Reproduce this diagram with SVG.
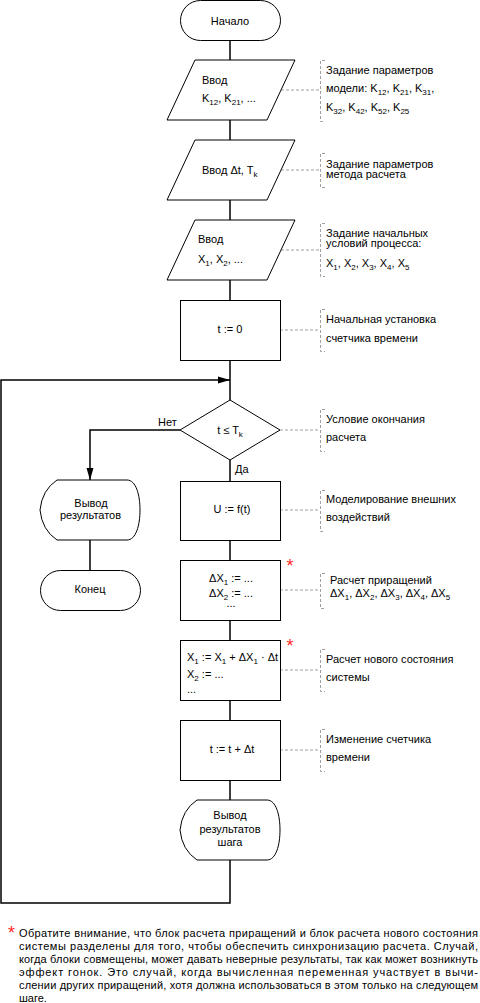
<svg xmlns="http://www.w3.org/2000/svg" width="480" height="1003" viewBox="0 0 480 1003">
<defs>
<style>
.s{fill:#fff;stroke:#000;stroke-width:1}
.c{fill:none;stroke:#000;stroke-width:1.5}
.d{fill:none;stroke:#a0a0a0;stroke-width:1;stroke-dasharray:3 2}
text{font-family:"Liberation Sans",Arial,sans-serif;font-size:11px;fill:#000}
.m{text-anchor:middle}
.sub{font-size:8px}
.ast{fill:#ff2a2a;font-size:18px;text-anchor:middle}
</style>
<marker id="arr" markerUnits="userSpaceOnUse" markerWidth="12" markerHeight="8" viewBox="0 0 12 7" refX="12" refY="3.5" orient="auto">
<path d="M0,0 L12,3.5 L0,7 Z" fill="#000"/>
</marker>
</defs>
<rect width="480" height="1003" fill="#fff"/>

<g id="connectors">
<path class="c" d="M230,40 V60 M230,120 V140 M230,200 V220 M230,280 V300 M230,360 V400 M230,460 V481 M230,540 V560 M230,620 V640 M230,700 V720 M230,780 V800 M90,540 V570"/>
<path class="c" d="M230,860 V903 H1 V380 H230" marker-end="url(#arr)"/>
<path class="c" d="M180,430 H90 V480" marker-end="url(#arr)"/>
<path class="d" d="M281,90 H320 M281,170 H320 M281,250 H320 M280,330 H320 M280,430 H320 M280,510 H320 M280,590 H320 M280,670 H320 M280,750 H320"/>
<text x="158" y="426">Нет</text>
<text x="235" y="473">Да</text>
</g>

<g id="n-start">
<rect class="s" x="180.5" y="0.5" width="100" height="40" rx="20" ry="20"/>
<text class="m" x="230" y="25">Начало</text>
</g>
<g id="n-in1">
<polygon class="s" points="195,60 295,60 267,120 167,120"/>
<text x="202" y="83.5">Ввод</text>
<text x="202" y="102">K<tspan class="sub" dy="3">12</tspan><tspan dy="-3">, K</tspan><tspan class="sub" dy="3">21</tspan><tspan dy="-3">, ...</tspan></text>
</g>
<g id="n-in2">
<polygon class="s" points="195,140 295,140 267,200 167,200"/>
<text x="202" y="174">Ввод Δt, T<tspan class="sub" dy="3">k</tspan></text>
</g>
<g id="n-in3">
<polygon class="s" points="195,220 295,220 267,280 167,280"/>
<text x="198" y="243">Ввод</text>
<text x="198" y="263">X<tspan class="sub" dy="3">1</tspan><tspan dy="-3">, X</tspan><tspan class="sub" dy="3">2</tspan><tspan dy="-3">, ...</tspan></text>
</g>
<g id="n-init">
<rect class="s" x="180.5" y="300.5" width="100" height="60"/>
<text class="m" x="230" y="333">t := 0</text>
</g>
<g id="n-cond">
<polygon class="s" points="230,400 280,430 230,460 180,430"/>
<text class="m" x="230" y="434">t ≤ T<tspan class="sub" dy="3">k</tspan></text>
</g>
<g id="n-out1">
<path class="s" d="M57,480 H127 C136,480 140,495 140,510 C140,525 136,540 127,540 H57 Q42,530 40,510 Q42,490 57,480 Z"/>
<text class="m" x="91" y="507">Вывод</text>
<text class="m" x="90.5" y="519">результатов</text>
</g>
<g id="n-end">
<rect class="s" x="40.5" y="570.5" width="100" height="40" rx="20" ry="20"/>
<text class="m" x="90" y="593">Конец</text>
</g>
<g id="n-u">
<rect class="s" x="180.5" y="481.5" width="100" height="59"/>
<text class="m" x="232" y="513">U := f(t)</text>
</g>
<g id="n-dx">
<rect class="s" x="180.5" y="560.5" width="100" height="60"/>
<text class="m" x="231" y="582">ΔX<tspan class="sub" dy="3">1</tspan><tspan dy="-3"> := ...</tspan></text>
<text class="m" x="231" y="597">ΔX<tspan class="sub" dy="3">2</tspan><tspan dy="-3"> := ...</tspan></text>
<text class="m" x="231" y="607">...</text>
<text class="ast" x="290" y="572">*</text>
</g>
<g id="n-x">
<rect class="s" x="180.5" y="640.5" width="100" height="60"/>
<text x="187" y="661">X<tspan class="sub" dy="3">1</tspan><tspan dy="-3"> := X</tspan><tspan class="sub" dy="3">1</tspan><tspan dy="-3"> + ΔX</tspan><tspan class="sub" dy="3">1</tspan><tspan dy="-3"> · Δt</tspan></text>
<text x="187" y="678">X<tspan class="sub" dy="3">2</tspan><tspan dy="-3"> := ...</tspan></text>
<text x="187" y="693">...</text>
<text class="ast" x="290" y="652">*</text>
</g>
<g id="n-t">
<rect class="s" x="180.5" y="720.5" width="100" height="60"/>
<text class="m" x="232" y="753">t := t + Δt</text>
</g>
<g id="n-out2">
<path class="s" d="M197,800 H267 C276,800 280,815 280,830 C280,845 276,860 267,860 H197 Q182,850 180,830 Q182,810 197,800 Z"/>
<text class="m" x="230" y="819">Вывод</text>
<text class="m" x="230" y="833">результатов</text>
<text class="m" x="230" y="846">шага</text>
</g>

<g id="a1">
<path class="d" d="M325,60.5 H320.5 V121.5 H325"/>
<text x="326" y="74">Задание параметров</text>
<text x="326" y="92">модели: K<tspan class="sub" dy="3">12</tspan><tspan dy="-3">, K</tspan><tspan class="sub" dy="3">21</tspan><tspan dy="-3">, K</tspan><tspan class="sub" dy="3">31</tspan><tspan dy="-3">,</tspan></text>
<text x="326" y="111">K<tspan class="sub" dy="3">32</tspan><tspan dy="-3">, K</tspan><tspan class="sub" dy="3">42</tspan><tspan dy="-3">, K</tspan><tspan class="sub" dy="3">52</tspan><tspan dy="-3">, K</tspan><tspan class="sub" dy="3">25</tspan></text>
</g>
<g id="a2">
<path class="d" d="M325,153.5 H320.5 V187.5 H325"/>
<text x="326" y="168">Задание параметров</text>
<text x="326" y="178">метода расчета</text>
</g>
<g id="a3">
<path class="d" d="M325,223.5 H320.5 V276.5 H325"/>
<text x="326" y="237">Задание начальных</text>
<text x="326" y="247">условий процесса:</text>
<text x="326" y="267">X<tspan class="sub" dy="3">1</tspan><tspan dy="-3">, X</tspan><tspan class="sub" dy="3">2</tspan><tspan dy="-3">, X</tspan><tspan class="sub" dy="3">3</tspan><tspan dy="-3">, X</tspan><tspan class="sub" dy="3">4</tspan><tspan dy="-3">, X</tspan><tspan class="sub" dy="3">5</tspan></text>
</g>
<g id="a4">
<path class="d" d="M325,309.5 H320.5 V351.5 H325"/>
<text x="326" y="323">Начальная установка</text>
<text x="326" y="341.5">счетчика времени</text>
</g>
<g id="a5">
<path class="d" d="M325,409.5 H320.5 V451.5 H325"/>
<text x="326" y="423">Условие окончания</text>
<text x="326" y="441">расчета</text>
</g>
<g id="a6">
<path class="d" d="M325,490.5 H320.5 V531.5 H325"/>
<text x="326" y="503">Моделирование внешних</text>
<text x="326" y="521">воздействий</text>
</g>
<g id="a7">
<path class="d" d="M325,573.5 H320.5 V608.5 H325"/>
<text x="330" y="584">Расчет приращений</text>
<text x="330" y="597">ΔX<tspan class="sub" dy="3">1</tspan><tspan dy="-3">, ΔX</tspan><tspan class="sub" dy="3">2</tspan><tspan dy="-3">, ΔX</tspan><tspan class="sub" dy="3">3</tspan><tspan dy="-3">, ΔX</tspan><tspan class="sub" dy="3">4</tspan><tspan dy="-3">, ΔX</tspan><tspan class="sub" dy="3">5</tspan></text>
</g>
<g id="a8">
<path class="d" d="M325,649.5 H320.5 V691.5 H325"/>
<text x="326" y="663">Расчет нового состояния</text>
<text x="326" y="681">системы</text>
</g>
<g id="a9">
<path class="d" d="M325,729.5 H320.5 V771.5 H325"/>
<text x="326" y="743">Изменение счетчика</text>
<text x="326" y="761">времени</text>
</g>

<g id="footnote">
<text class="ast" x="11.5" y="939">*</text>
<text x="19" y="937" textLength="459" lengthAdjust="spacing">Обратите внимание, что блок расчета приращений и блок расчета нового состояния</text>
<text x="19" y="950" textLength="459" lengthAdjust="spacing">системы разделены для того, чтобы обеспечить синхронизацию расчета. Случай,</text>
<text x="19" y="963" textLength="459" lengthAdjust="spacing">когда блоки совмещены, может давать неверные результаты, так как может возникнуть</text>
<text x="19" y="976" textLength="459" lengthAdjust="spacing">эффект гонок. Это случай, когда вычисленная переменная участвует в вычи-</text>
<text x="19" y="989" textLength="459" lengthAdjust="spacing">слении других приращений, хотя должна использоваться в этом только на следующем</text>
<text x="19" y="1002">шаге.</text>
</g>
</svg>
